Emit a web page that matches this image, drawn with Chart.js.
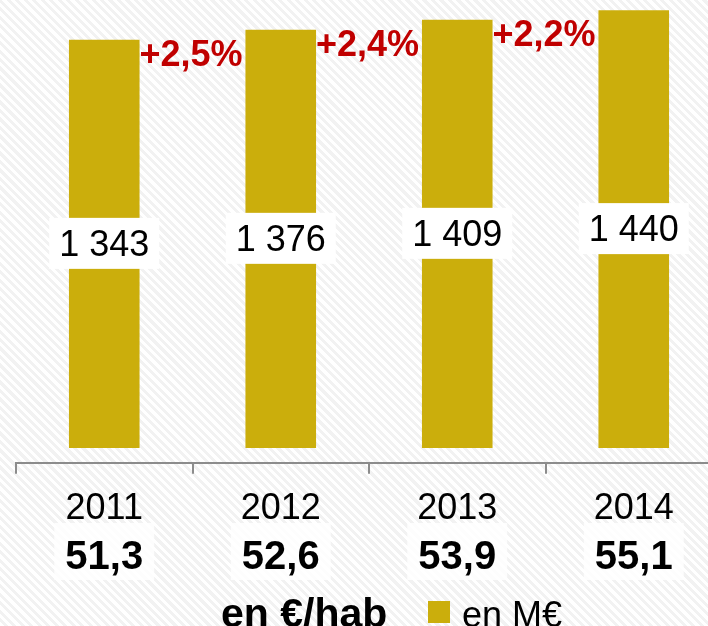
<!DOCTYPE html>
<html>
<head>
<meta charset="utf-8">
<script src="https://cdn.jsdelivr.net/npm/chart.js@4"></script>
<style>
  html, body {
    margin: 0;
    padding: 0;
    overflow: hidden;
    width: 708px;
    height: 626px;
    background: repeating-linear-gradient(45deg, #ffffff 0px, #ffffff 3px, #f2f2f2 3px, #f2f2f2 6px);
  }
  canvas { display: block; }
</style>
</head>
<body>
<canvas id="chart" width="722" height="626"></canvas>
<script>
  // data
  const years = ['2011', '2012', '2013', '2014'];
  const totalMEuro = [1343, 1376, 1409, 1440];
  const perHab = ['51,3', '52,6', '53,9', '55,1'];
  const growth = ['+2,5%', '+2,4%', '+2,2%'];

  const barColor = '#cbae0c';
  const fontName = '"Liberation Sans", Arial, sans-serif';

  function fmt(v) {
    return String(v).replace(/\B(?=(\d{3})+(?!\d))/g, ' ');
  }

  // labels inside the bars, growth rates, values per inhabitant and legend
  const extras = {
    id: 'extras',
    afterDatasetsDraw(chart) {
      const ctx = chart.ctx;
      const bars = chart.getDatasetMeta(0).data;
      const xs = chart.scales.x;
      ctx.save();

      bars.forEach((bar, i) => {
        const mid = (bar.y + bar.base) / 2;
        ctx.fillStyle = '#ffffff';
        ctx.fillRect(bar.x - 55, mid - 26, 110, 51);
        ctx.fillStyle = '#000000';
        ctx.font = '36px ' + fontName;
        ctx.textAlign = 'center';
        ctx.textBaseline = 'middle';
        ctx.fillText(fmt(totalMEuro[i]), bar.x, mid + 2);

        if (i < growth.length) {
          ctx.fillStyle = '#c00000';
          ctx.font = 'bold 36px ' + fontName;
          ctx.textAlign = 'left';
          ctx.fillText(growth[i], bar.x + bar.width / 2, bar.y + 16);
        }
      });

      perHab.forEach((v, i) => {
        const x = xs.getPixelForValue(i);
        ctx.fillStyle = 'rgba(255,255,255,0.8)';
        ctx.fillRect(x - 50, 523, 100, 57);
        ctx.fillStyle = '#000000';
        ctx.font = 'bold 40px ' + fontName;
        ctx.textAlign = 'center';
        ctx.textBaseline = 'alphabetic';
        ctx.fillText(v, x, 569);
      });

      // legend
      ctx.textAlign = 'left';
      ctx.textBaseline = 'alphabetic';
      ctx.fillStyle = '#000000';
      ctx.font = 'bold 41px ' + fontName;
      ctx.fillText('en €/hab', 221, 627);
      ctx.fillStyle = chart.data.datasets[0].backgroundColor;
      ctx.fillRect(428, 601, 22, 22);
      ctx.fillStyle = '#000000';
      ctx.font = '36px ' + fontName;
      ctx.fillText(chart.data.datasets[0].label, 462, 627);

      ctx.restore();
    }
  };

  new Chart(document.getElementById('chart'), {
    type: 'bar',
    data: {
      labels: years,
      datasets: [{
        label: 'en M€',
        data: totalMEuro,
        backgroundColor: barColor,
        borderWidth: 0,
        categoryPercentage: 1,
        barPercentage: 0.4
      }]
    },
    options: {
      responsive: false,
      animation: false,
      layout: { padding: { left: 16, right: 0, top: 0, bottom: 81 } },
      plugins: {
        legend: { display: false },
        tooltip: { enabled: false }
      },
      scales: {
        x: {
          grid: {
            offset: true,
            drawOnChartArea: false,
            drawTicks: true,
            tickLength: 11,
            color: '#8c8c8c',
            lineWidth: 2
          },
          border: { display: true, color: '#8c8c8c', width: 2 },
          ticks: {
            color: '#000000',
            font: { family: fontName, size: 36 },
            padding: 14
          }
        },
        y: {
          display: false,
          min: -49,
          max: 1474
        }
      }
    },
    plugins: [extras]
  });
</script>
</body>
</html>
